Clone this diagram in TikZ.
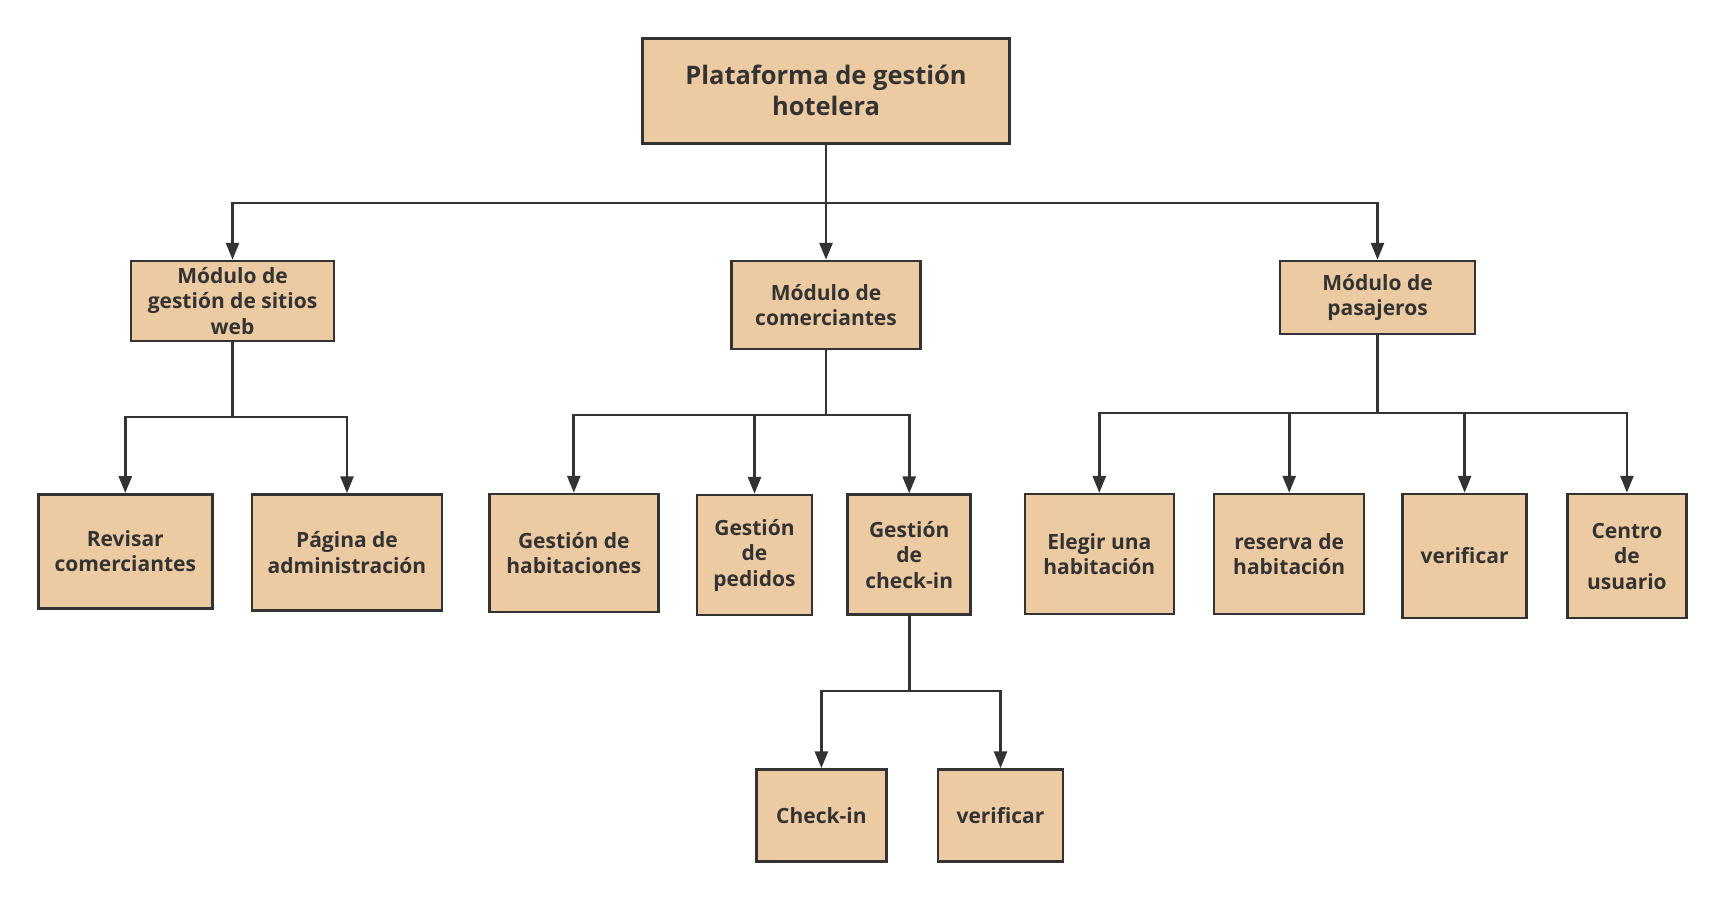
\documentclass[tikz,border=0pt]{standalone}
\usepackage{fontspec}
\setmainfont{Open Sans}
\usepackage{xcolor}
\usetikzlibrary{arrows.meta}
\definecolor{peach}{HTML}{EDCBA2}
\definecolor{ink}{HTML}{333333}
\tikzset{
    caja/.style   = {draw=ink, line width=2.5pt, fill=peach, align=center,
                     inner sep=2pt, text=ink,
                     font=\bfseries\fontsize{21}{25.5}\selectfont},
    raiz/.style   = {caja, font=\bfseries\fontsize{25.5}{31}\selectfont},
    tam/.style 2 args = {minimum width=#1pt, minimum height=#2pt},
    link/.style   = {draw=ink, line width=2.8pt, -{Triangle[length=17pt, width=13pt]}}
}

\begin{document}
\begin{tikzpicture}[x=1pt, y=-1pt]
        \useasboundingbox (0,0) rectangle (1723,900);

        % --- Plataforma ---
        \node[raiz, tam={367}{105}] (root) at (826,90.8) {Plataforma de gestión\\hotelera};

        % --- Módulos ---
        \node[caja, tam={203}{80}]  (web) at (232.5,301)  {Módulo de\\gestión de sitios\\web};
        \node[caja, tam={189}{88}]  (com) at (826,305)    {Módulo de\\comerciantes};
        \node[caja, tam={195}{73}]  (pas) at (1377.5,297.5) {Módulo de\\pasajeros};

        \coordinate (b0) at (826,203);
        \draw[link] (root.south) |- (b0) -| (web.north);
        \draw[link] (root.south) |- (b0) -| (com.north);
        \draw[link] (root.south) |- (b0) -| (pas.north);

        % --- Sitios web ---
        \node[caja, tam={174}{114}] (rev) at (125.3,551.3) {Revisar\\comerciantes};
        \node[caja, tam={190}{116}] (pag) at (347,552.5)   {Página de\\administración};

        \coordinate (b1) at (232.5,417);
        \draw[link] (web.south) |- (b1) -| (rev.north);
        \draw[link] (web.south) |- (b1) -| (pag.north);

        % --- Comerciantes ---
        \node[caja, tam={169}{118}] (hab) at (573.8,553)  {Gestión de\\habitaciones};
        \node[caja, tam={115}{120}] (ped) at (754.5,555)  {Gestión\\de\\pedidos};
        \node[caja, tam={123}{120}] (chk) at (909.2,554.7) {Gestión\\de\\check-in};

        \coordinate (b2) at (826,415);
        \draw[link] (com.south) |- (b2) -| (hab.north);
        \draw[link] (com.south) |- (b2) -| (ped.north);
        \draw[link] (com.south) |- (b2) -| (chk.north);

        % --- Check-in ---
        \node[caja, tam={130}{92}] (cki) at (821.4,815.5)  {Check-in};
        \node[caja, tam={125}{92}] (cve) at (1000.5,815.5) {verificar};

        \coordinate (b3) at (909.2,691);
        \draw[link] (chk.south) |- (b3) -| (cki.north);
        \draw[link] (chk.south) |- (b3) -| (cve.north);

        % --- Pasajeros ---
        \node[caja, tam={149}{120}] (ele) at (1099.3,554.2) {Elegir una\\habitación};
        \node[caja, tam={150}{120}] (res) at (1289.2,554)   {reserva de\\habitación};
        \node[caja, tam={124}{124}] (ver) at (1464.6,556)   {verificar};
        \node[caja, tam={119}{124}] (cen) at (1626.9,556)   {Centro\\de\\usuario};

        \coordinate (b4) at (1377.5,413);
        \draw[link] (pas.south) |- (b4) -| (ele.north);
        \draw[link] (pas.south) |- (b4) -| (res.north);
        \draw[link] (pas.south) |- (b4) -| (ver.north);
        \draw[link] (pas.south) |- (b4) -| (cen.north);
\end{tikzpicture}
\end{document}
